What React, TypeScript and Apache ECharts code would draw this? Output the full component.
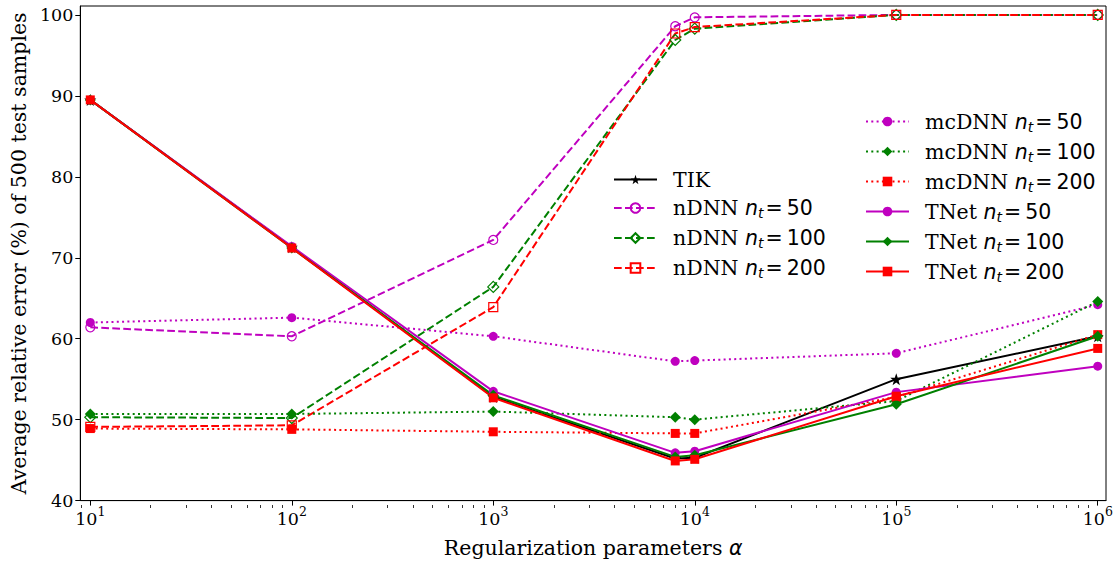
import React, { useEffect, useRef } from 'react';
import * as echarts from 'echarts';

const alphas = [10, 100, 1000, 8000, 10000, 100000, 1000000];
const tik = [89.5, 71.3, 52.8, 45.2, 45.3, 55.0, 60.3];
const ndnn50 = [61.4, 60.3, 72.2, 98.6, 99.7, 100.0, 100.0];
const ndnn100 = [50.3, 50.2, 66.4, 96.9, 98.3, 100.0, 100.0];
const ndnn200 = [49.1, 49.3, 63.9, 97.7, 98.5, 100.0, 100.0];
const mcdnn50 = [62.0, 62.6, 60.3, 57.2, 57.3, 58.2, 64.2];
const mcdnn100 = [50.7, 50.7, 51.0, 50.3, 50.0, 52.3, 64.6];
const mcdnn200 = [48.9, 48.8, 48.5, 48.3, 48.3, 52.8, 60.5];
const tnet50 = [89.5, 71.4, 53.5, 45.9, 46.1, 53.4, 56.6];
const tnet100 = [89.5, 71.2, 53.0, 45.4, 45.6, 51.9, 60.3];
const tnet200 = [89.5, 71.2, 52.7, 44.9, 45.1, 52.9, 58.8];

const xMajorTicks = [10, 100, 1000, 10000, 100000, 1000000];
const xMinorTicks = [
  9,
  20, 30, 40, 50, 60, 70, 80, 90,
  200, 300, 400, 500, 600, 700, 800, 900,
  2000, 3000, 4000, 5000, 6000, 7000, 8000, 9000,
  20000, 30000, 40000, 50000, 60000, 70000, 80000, 90000,
  200000, 300000, 400000, 500000, 600000, 700000, 800000, 900000,
];
const yTicks = [40, 50, 60, 70, 80, 90, 100];

const legendLeft = ['TIK', 'nDNN 50', 'nDNN 100', 'nDNN 200'];
const legendRight = ['mcDNN 50', 'mcDNN 100', 'mcDNN 200', 'TNet 50', 'TNet 100', 'TNet 200'];

const MAG = '#bf00bf';
const GRN = '#008000';
const RED = '#ff0000';
const BLK = '#000000';

const STAR = 'path://M50,0 L61.8,35.1 L98.1,35.1 L68.8,56.8 L79.4,91 L50,70 L20.6,91 L31.2,56.8 L1.9,35.1 L38.2,35.1 Z';
const DOTTED = [2, 3.3];
const DASHED = [7.7, 3.3];

const X_MIN = Math.pow(10, 0.9504);
const X_MAX = Math.pow(10, 6.041);
const Y_MIN = 40;
const Y_MAX = 101.1;

const LF = 20.5;
const TF = 17.5;

function mk(name: string, vals: number[], color: string, lineType: any, symbol: string, size: number, hollow: boolean) {
  return {
    name,
    type: 'line',
    xAxisIndex: 0,
    yAxisIndex: 0,
    data: alphas.map((a, i) => [a, vals[i]]),
    symbol,
    symbolSize: size,
    showAllSymbol: true,
    lineStyle: { color, width: 2, type: lineType },
    itemStyle: hollow
      ? { color: 'rgba(255,255,255,0)', borderColor: color, borderWidth: 1.2 }
      : { color, borderWidth: 0 },
    emphasis: { disabled: true },
  };
}

const richLegend = {
  s: { fontFamily: 'DejaVu Serif', fontSize: LF, color: '#000', padding: [0, 0, 0, 11] },
  i: { fontFamily: 'DejaVu Sans', fontStyle: 'italic', fontSize: LF, color: '#000' },
  sub: { fontFamily: 'DejaVu Sans', fontStyle: 'italic', fontSize: 14, color: '#000', padding: [10, 0, 0, 0] },
  e: { fontFamily: 'DejaVu Sans', fontSize: LF, color: '#000', padding: [0, 4, 0, 2] },
  m: { fontFamily: 'DejaVu Sans', fontSize: LF, color: '#000' },
};

function legendFmt(name: string) {
  const parts = name.split(' ');
  if (parts.length < 2) return `{s|${parts[0]}}`;
  return `{s|${parts[0]} }{i|n}{sub|t}{e|=}{m|${parts[1]}}`;
}

export default function App() {
  const ref = useRef<HTMLDivElement>(null);
  useEffect(() => {
    if (!ref.current) return;
    const chart = echarts.init(ref.current, null, { renderer: 'svg' });
    const grid = { left: 80, right: 12, top: 6, bottom: 58 };
    const option: any = {
      animation: false,
      backgroundColor: '#fff',
      grid: [
        { ...grid, show: true, borderColor: '#000', borderWidth: 1, backgroundColor: 'transparent' },
        { ...grid, show: false },
      ],
      xAxis: [
        {
          type: 'log',
          gridIndex: 0,
          min: X_MIN,
          max: X_MAX,
          name: '{a|Regularization parameters }{b|α}',
          nameLocation: 'middle',
          nameGap: 31,
          nameTextStyle: {
            rich: {
              a: { fontFamily: 'DejaVu Serif', fontSize: LF, color: '#000' },
              b: { fontFamily: 'DejaVu Sans', fontStyle: 'italic', fontSize: LF, color: '#000' },
            },
          },
          axisLine: { show: true, lineStyle: { color: '#000', width: 1 } },
          axisTick: { show: true, inside: false, length: 5, lineStyle: { color: '#000', width: 1 }, customValues: xMajorTicks },
          axisLabel: {
            show: true,
            margin: 6,
            customValues: xMajorTicks,
            formatter: (v: number) => `{b|10}{s|${Math.round(Math.log10(v))}}`,
            rich: {
              b: { fontFamily: 'DejaVu Serif', fontSize: TF, color: '#000', lineHeight: 24 },
              s: { fontFamily: 'DejaVu Serif', fontSize: 12.5, color: '#000', lineHeight: 24, padding: [0, 0, 14, 0] },
            },
          },
          splitLine: { show: false },
          minorTick: { show: false },
        },
        {
          type: 'log',
          gridIndex: 1,
          min: X_MIN,
          max: X_MAX,
          axisLine: { show: false },
          axisTick: { show: true, inside: false, length: 3, lineStyle: { color: '#000', width: 0.8 }, customValues: xMinorTicks },
          axisLabel: { show: false },
          splitLine: { show: false },
        },
      ],
      yAxis: [
        {
          type: 'value',
          gridIndex: 0,
          min: Y_MIN,
          max: Y_MAX,
          name: 'Average relative error (%) of 500 test samples',
          nameLocation: 'middle',
          nameGap: 48,
          nameTextStyle: { fontFamily: 'DejaVu Serif', fontSize: LF, color: '#000' },
          axisLine: { show: true, lineStyle: { color: '#000', width: 1 } },
          axisTick: { show: true, inside: false, length: 5, lineStyle: { color: '#000', width: 1 }, customValues: yTicks },
          axisLabel: {
            show: true,
            margin: 7,
            customValues: yTicks,
            fontFamily: 'DejaVu Serif',
            fontSize: TF,
            color: '#000',
          },
          splitLine: { show: false },
        },
        {
          type: 'value',
          gridIndex: 1,
          min: Y_MIN,
          max: Y_MAX,
          show: false,
        },
      ],
      legend: [
        {
          data: legendLeft,
          orient: 'vertical',
          left: 613,
          top: 169,
          padding: 0,
          itemWidth: 43,
          itemHeight: 12,
          itemGap: 7.5,
          selectedMode: false,
          formatter: legendFmt,
          textStyle: { rich: richLegend, color: '#000' },
        },
        {
          data: legendRight,
          orient: 'vertical',
          left: 865,
          top: 111,
          padding: 0,
          itemWidth: 43,
          itemHeight: 12,
          itemGap: 7.5,
          selectedMode: false,
          formatter: legendFmt,
          textStyle: { rich: richLegend, color: '#000' },
        },
      ],
      series: [
        mk('TIK', tik, BLK, 'solid', STAR, 12, false),
        mk('nDNN 50', ndnn50, MAG, DASHED, 'circle', 9, true),
        mk('nDNN 100', ndnn100, GRN, DASHED, 'diamond', 11, true),
        mk('nDNN 200', ndnn200, RED, DASHED, 'rect', 9, true),
        mk('mcDNN 50', mcdnn50, MAG, DOTTED, 'circle', 9, false),
        mk('mcDNN 100', mcdnn100, GRN, DOTTED, 'diamond', 11, false),
        mk('mcDNN 200', mcdnn200, RED, DOTTED, 'rect', 9, false),
        mk('TNet 50', tnet50, MAG, 'solid', 'circle', 9, false),
        mk('TNet 100', tnet100, GRN, 'solid', 'diamond', 11, false),
        mk('TNet 200', tnet200, RED, 'solid', 'rect', 9, false),
      ],
    };
    chart.setOption(option);
    return () => chart.dispose();
  }, []);
  return <div ref={ref} style={{ position: 'fixed', left: 0, top: 0, width: 1118, height: 563 }} />;
}
